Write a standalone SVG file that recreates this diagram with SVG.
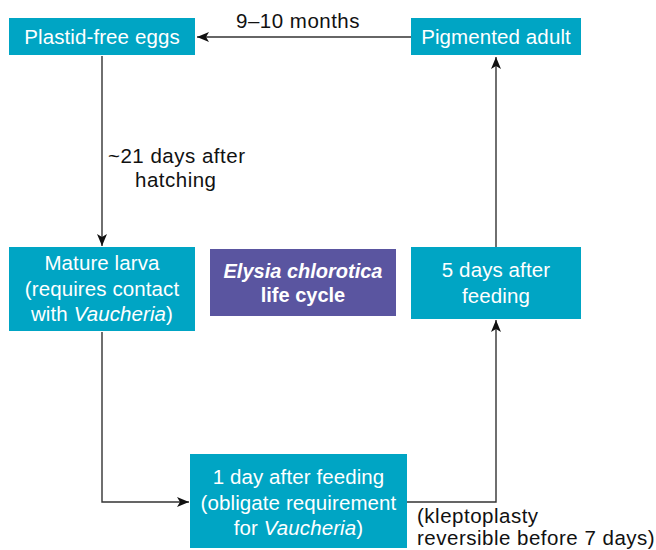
<svg xmlns="http://www.w3.org/2000/svg" width="656" height="550" viewBox="0 0 656 550">
<defs>
<marker id="arr" viewBox="0 0 12 10" refX="12" refY="5" markerWidth="12" markerHeight="10" markerUnits="userSpaceOnUse" orient="auto">
<path d="M0,0 L12,5 L0,10 L3,5 Z" fill="#111"/>
</marker>
</defs>
<style>
.box{fill:#00a5c4}
.title{fill:#5a55a0}
.t{font-family:"Liberation Sans",Arial,sans-serif;font-size:20.5px;letter-spacing:0.1px;fill:#fff;text-anchor:middle}
.b{font-family:"Liberation Sans",Arial,sans-serif;font-size:20px;font-weight:bold;fill:#fff;text-anchor:middle}
.l{font-family:"Liberation Sans",Arial,sans-serif;font-size:20.5px;letter-spacing:0.5px;fill:#111}
.c{fill:none;stroke:#333;stroke-width:1.4}
</style>
<rect width="656" height="550" fill="#fff"/>
<g id="connectors">
<path class="c" d="M411,37 H197" marker-end="url(#arr)"/>
<path class="c" d="M102,56 V246" marker-end="url(#arr)"/>
<path class="c" d="M102,332 V502 H189" marker-end="url(#arr)"/>
<path class="c" d="M407,502 H496 V320" marker-end="url(#arr)"/>
<path class="c" d="M496,247 V57" marker-end="url(#arr)"/>
<text class="l" x="236" y="28">9–10 months</text>
<text class="l" x="108" y="163">~21 days after</text>
<text class="l" x="135" y="187">hatching</text>
<text class="l" x="417" y="523">(kleptoplasty</text>
<text class="l" x="417" y="545">reversible before 7 days)</text>
</g>
<g id="eggs">
<rect class="box" x="9" y="18" width="186" height="37"/>
<text class="t" x="102" y="44">Plastid-free eggs</text>
</g>
<g id="adult">
<rect class="box" x="411" y="18" width="170" height="37"/>
<text class="t" x="496" y="44">Pigmented adult</text>
</g>
<g id="larva">
<rect class="box" x="9" y="247" width="186" height="84"/>
<text class="t" x="102" y="270">Mature larva</text>
<text class="t" x="102" y="296">(requires contact</text>
<text class="t" x="102" y="321">with <tspan font-style="italic">Vaucheria</tspan>)</text>
</g>
<g id="title">
<rect class="title" x="210" y="249" width="186" height="67"/>
<text class="b" x="303" y="278" font-style="italic">Elysia chlorotica</text>
<text class="b" x="303" y="302">life cycle</text>
</g>
<g id="day5">
<rect class="box" x="411" y="247" width="170" height="72"/>
<text class="t" x="496" y="277">5 days after</text>
<text class="t" x="496" y="303">feeding</text>
</g>
<g id="day1">
<rect class="box" x="190" y="454" width="217" height="94"/>
<text class="t" x="298.5" y="484">1 day after feeding</text>
<text class="t" x="298.5" y="510">(obligate requirement</text>
<text class="t" x="298.5" y="535">for <tspan font-style="italic">Vaucheria</tspan>)</text>
</g>
</svg>
